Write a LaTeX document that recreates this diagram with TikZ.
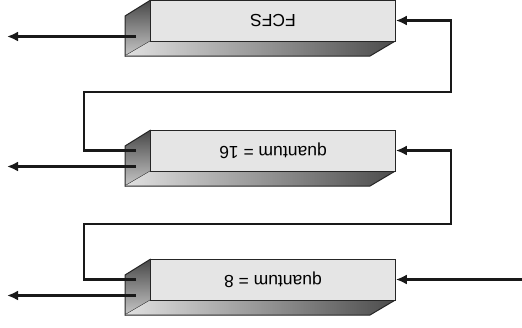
\documentclass[tikz,border=0pt]{standalone}
\usepackage{fontspec}
\setmainfont{Liberation Sans}
\usetikzlibrary{arrows.meta}
\begin{document}
\begin{tikzpicture}[x=1pt,y=1pt,
  front/.style={draw=black!85,line width=1pt,fill=black!10,minimum width=244.6pt,minimum height=41pt,inner sep=0pt,
    font=\fontsize{17.5}{20}\selectfont},
  edgeln/.style={draw=black!85,line width=1pt},
  conn/.style={draw=black!90,line width=2.2pt,-{Latex[length=11pt,width=10pt]}},
  wire/.style={draw=black!90,line width=2.2pt}]
\useasboundingbox (0,0) rectangle (522,-327);
\foreach \t/\nm/\txt in {0/b1/FCFS,130/b2/{quantum = 16},259/b3/{quantum = 8}}{
  % left face
  \shade[top color=black!72,bottom color=black!22] (150.7,-\t) -- (125,-\t-16) -- (125,-\t-56) -- (150.7,-\t-41) -- cycle;
  \draw[edgeln] (150.7,-\t) -- (125,-\t-16) -- (125,-\t-56) -- (150.7,-\t-41);
  % bottom face
  \shade[left color=black!12,right color=black!70] (150.7,-\t-41) -- (395.3,-\t-41) -- (370,-\t-56) -- (125,-\t-56) -- cycle;
  \draw[edgeln] (125,-\t-56) -- (370,-\t-56) -- (395.3,-\t-41);
  % front face
  \node[front] (\nm) at (273,-\t-20.5) {\rotatebox{180}{\txt}};
  \coordinate (\nm o) at (136,-\t-36.5);
  \coordinate (\nm x) at (7,-\t-36.5);
}
\coordinate (f2) at (136,-150.5);
\coordinate (f3) at (136,-279.5);
\coordinate (in3) at (522,-279.5);
% exits
\draw[conn] (b1o) -- (b1x);
\draw[conn] (b2o) -- (b2x);
\draw[conn] (b3o) -- (b3x);
% feedback
\draw[conn] (f2) -- (84.3,-150.5) -- (84.3,-92.3) -- (451,-92.3) |- (b1.east);
\draw[conn] (f3) -- (84.3,-279.5) -- (84.3,-223.7) -- (451,-223.7) |- (b2.east);
% input
\draw[conn] (in3) -- (b3.east);
\end{tikzpicture}
\end{document}
